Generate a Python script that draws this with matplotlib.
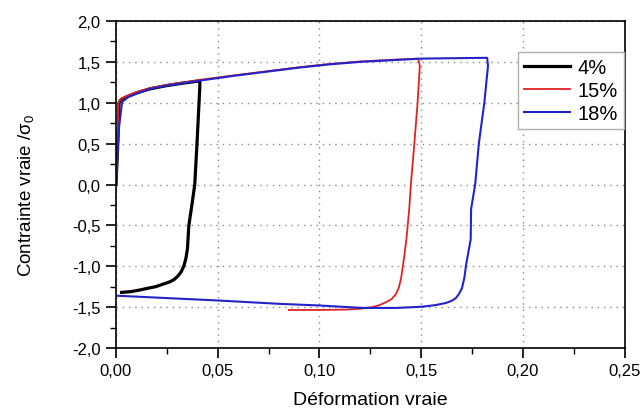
import matplotlib.pyplot as plt
from matplotlib.ticker import FuncFormatter, MultipleLocator

plt.rcParams["font.family"] = ["Liberation Sans", "DejaVu Sans"]
plt.rcParams["mathtext.fontset"] = "custom"
plt.rcParams["mathtext.rm"] = "Liberation Sans"
plt.rcParams["mathtext.default"] = "regular"

# 4% pre-strain: tension then reversed loading
strain_4 = [0.0, 0.0008, 0.0015, 0.0025, 0.005, 0.010, 0.0167, 0.025, 0.033,
            0.0405, 0.0412, 0.0412, 0.0408, 0.0398, 0.0387, 0.0373, 0.0358,
            0.0351, 0.0343, 0.0333, 0.0320, 0.0304, 0.0287, 0.0265, 0.0230,
            0.0195, 0.0155, 0.0118, 0.0075, 0.0028]
stress_4 = [0.0, 0.45, 1.0, 1.04, 1.07, 1.12, 1.17, 1.21, 1.24,
            1.265, 1.27, 1.20, 1.0, 0.5, 0.0, -0.25, -0.5,
            -0.79, -0.91, -1.0, -1.07, -1.12, -1.16, -1.19, -1.22,
            -1.25, -1.27, -1.29, -1.31, -1.32]

# 15% pre-strain
strain_15 = [0.0, 0.0004, 0.0007, 0.0012, 0.0025, 0.006, 0.010, 0.0167, 0.025,
             0.041, 0.058, 0.074, 0.090, 0.105, 0.120, 0.135, 0.1485, 0.1493,
             0.1482, 0.1466, 0.1449, 0.1441, 0.1427, 0.1417, 0.1408, 0.140,
             0.1390, 0.1376, 0.1355, 0.1327, 0.1295, 0.126, 0.120, 0.113,
             0.100, 0.0849]
stress_15 = [0.0, 0.2, 0.45, 1.0, 1.05, 1.09, 1.13, 1.18, 1.22,
             1.28, 1.335, 1.385, 1.435, 1.475, 1.505, 1.525, 1.54, 1.45,
             1.0, 0.5, 0.0, -0.3, -0.67, -0.87, -1.03, -1.16,
             -1.26, -1.34, -1.40, -1.44, -1.475, -1.50, -1.52, -1.53,
             -1.535, -1.535]

# 18% pre-strain
strain_18 = [0.0, 0.0005, 0.0015, 0.003, 0.006, 0.010, 0.0167, 0.025, 0.041,
             0.058, 0.074, 0.090, 0.105, 0.120, 0.135, 0.150, 0.165, 0.1824,
             0.1828, 0.181, 0.1783, 0.1765, 0.1745, 0.1743, 0.172, 0.1712,
             0.1700, 0.1685, 0.167, 0.1648, 0.162, 0.157, 0.1505, 0.1376,
             0.121, 0.100, 0.0804, 0.051, 0.0]
stress_18 = [0.0, 0.3, 0.7, 1.01, 1.07, 1.11, 1.17, 1.21, 1.27,
             1.33, 1.38, 1.43, 1.47, 1.50, 1.52, 1.54, 1.545, 1.55,
             1.45, 1.0, 0.5, 0.0, -0.3, -0.67, -0.99, -1.14,
             -1.27, -1.34, -1.39, -1.425, -1.45, -1.475, -1.495, -1.51,
             -1.51, -1.48, -1.46, -1.42, -1.36]

labels = ["4%", "15%", "18%"]


def comma(fmt):
    return FuncFormatter(lambda v, _: (fmt % v).replace(".", ","))


fig = plt.figure(figsize=(6.43, 4.10), dpi=100)
ax = fig.add_axes([0.1804, 0.1488, 0.7912, 0.7975])

ax.plot(strain_4, stress_4, color="black", lw=2.3, label=labels[0])
ax.plot(strain_15, stress_15, color="#dd2424", lw=1.3, label=labels[1])
ax.plot(strain_18, stress_18, color="#2323c8", lw=1.5, label=labels[2])

ax.set_xlim(0, 0.25)
ax.set_ylim(-2.0, 2.0)
ax.xaxis.set_major_locator(MultipleLocator(0.05))
ax.xaxis.set_minor_locator(MultipleLocator(0.025))
ax.yaxis.set_major_locator(MultipleLocator(0.5))
ax.yaxis.set_minor_locator(MultipleLocator(0.25))
ax.xaxis.set_major_formatter(comma("%.2f"))
ax.yaxis.set_major_formatter(comma("%.1f"))

ax.tick_params(which="major", direction="out", length=7, width=1.2,
               labelsize=12, pad=4)
ax.tick_params(which="minor", direction="out", length=4, width=1.0)
for side in ax.spines.values():
    side.set_linewidth(1.2)

ax.grid(True, which="major", color="#8a8a8a", lw=1.0,
        linestyle=(0, (1, 3.5)))

ax.set_xlabel("Déformation vraie", fontsize=14, labelpad=9)
ax.set_ylabel("Contrainte vraie /σ$_0$", fontsize=13.5)
ax.yaxis.set_label_coords(-0.157, 0.47)

leg = ax.legend(loc="upper right", bbox_to_anchor=(0.998, 0.905),
                fontsize=14.5, frameon=True, fancybox=False,
                edgecolor="#b0b0b0", framealpha=1, handlelength=2.3,
                handletextpad=0.35, labelspacing=0.2, borderpad=0.3,
                borderaxespad=0)
leg.get_frame().set_linewidth(1.0)

fig.savefig("out.png", dpi=100)
